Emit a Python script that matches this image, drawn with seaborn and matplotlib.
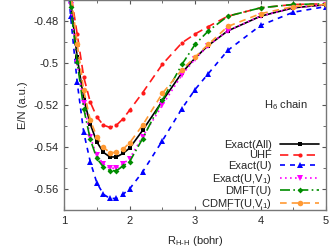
import numpy as np
import pandas as pd
import matplotlib
matplotlib.use("Agg")
import matplotlib.pyplot as plt
import seaborn as sns
from matplotlib.ticker import MultipleLocator

# Bond length grid (bohr)
R = [1.0, 1.1, 1.2, 1.3, 1.4, 1.5, 1.6, 1.7, 1.8, 1.9, 2.0,
     2.2, 2.5, 2.8, 3.0, 3.2, 3.5, 4.0, 4.5, 5.0]

# Energy per atom (a.u.)
exact_all = [-0.432, -0.470, -0.497, -0.517, -0.529, -0.5375, -0.5425, -0.5447, -0.5447, -0.5430, -0.5405,
             -0.5320, -0.5180, -0.5045, -0.4975, -0.4915, -0.4845, -0.4775, -0.4735, -0.4720]
uhf = [-0.440, -0.466, -0.486, -0.5065, -0.5185, -0.5256, -0.5295, -0.5306, -0.5295, -0.5265, -0.5224,
       -0.5140, -0.5005, -0.4902, -0.4860, -0.4825, -0.4775, -0.4735, -0.4719, -0.4716]
exact_u = [-0.440, -0.4775, -0.509, -0.533, -0.547, -0.557, -0.5625, -0.5645, -0.5645, -0.5625, -0.5600,
           -0.5518, -0.5370, -0.5216, -0.5125, -0.5050, -0.4938, -0.4819, -0.4756, -0.4729]
exact_uv1 = [-0.432, -0.472, -0.500, -0.519, -0.5351, -0.5440, -0.5480, -0.5501, -0.5500, -0.5480, -0.5455,
             -0.5350, -0.5200, -0.5055, -0.4980, -0.4915, -0.4845, -0.4775, -0.4735, -0.4720]
dmft_u = [-0.433, -0.473, -0.4994, -0.5216, -0.5363, -0.5454, -0.5495, -0.5512, -0.5513, -0.5490, -0.5470,
          -0.5359, -0.5176, -0.5005, -0.4910, -0.4846, -0.4775, -0.4735, -0.4719, -0.4716]
cdmft_uv1 = [-0.428, -0.466, -0.4906, -0.5129, -0.5271, -0.5350, -0.5400, -0.5427, -0.5425, -0.5410, -0.5380,
             -0.5295, -0.5144, -0.5030, -0.4970, -0.4910, -0.4824, -0.4763, -0.4729, -0.4719]

labels = ["Exact(All)", "UHF", "Exact(U)", r"Exact(U,V$_1$)", "DMFT(U)", r"CDMFT(U,V$_1$)"]
series = [exact_all, uhf, exact_u, exact_uv1, dmft_u, cdmft_uv1]

# gnuplot-like styles
styles = [
    dict(color="black", marker="s", ms=3, linestyle="-", lw=1.2),
    dict(color="#ff1a1a", marker="o", ms=3, linestyle=(0, (5, 3)), lw=1.2),
    dict(color="#0000ff", marker="^", ms=4, linestyle=(0, (3, 3)), lw=1.2),
    dict(color="#ff00ff", marker="v", ms=4, linestyle=(0, (1, 2)), lw=1.2),
    dict(color="#008c00", marker="D", ms=3, linestyle=(0, (6, 2, 1, 2)), lw=1.2),
    dict(color="#ff9933", marker="o", ms=4, linestyle=(0, (4, 3)), lw=1.2),
]

sns.set_style("ticks")
plt.rcParams["font.family"] = ["Liberation Sans", "DejaVu Sans"]
plt.rcParams["font.size"] = 8
plt.rcParams["mathtext.fontset"] = "custom"
plt.rcParams["mathtext.rm"] = "Liberation Sans"
plt.rcParams["mathtext.default"] = "regular"

fig = plt.figure(figsize=(3.32, 2.47), dpi=100)
ax = fig.add_axes([0.193, 0.15, 0.789, 0.848])

for lab, vals, st in zip(labels, series, styles):
    df = pd.DataFrame({"R": R, "E": vals})
    sns.lineplot(data=df, x="R", y="E", ax=ax, label=lab, markeredgewidth=0, **st)

ax.set_xlim(1, 5)
ax.set_ylim(-0.57, -0.47)
ax.set_xticks([1, 2, 3, 4, 5])
ax.set_yticks([-0.56, -0.54, -0.52, -0.5, -0.48])
ax.set_yticklabels(["-0.56", "-0.54", "-0.52", "-0.5", "-0.48"])
ax.xaxis.set_minor_locator(MultipleLocator(0.5))
ax.yaxis.set_minor_locator(MultipleLocator(0.01))
ax.tick_params(which="both", direction="in", top=True, right=True, color="#555555", labelsize=8)
ax.tick_params(which="major", length=3, pad=4)
ax.tick_params(which="minor", length=2)
for sp in ax.spines.values():
    sp.set_color("#777777")
    sp.set_linewidth(1.0)

ax.set_xlabel(r"R$_{H\text{-}H}$ (bohr)", fontsize=8, labelpad=6)
ax.set_ylabel("E/N (a.u.)", fontsize=8, labelpad=4)

ax.text(0.93, 0.5, r"H$_6$ chain", transform=ax.transAxes, ha="right", va="center", fontsize=8)

ax.legend(loc="lower right", bbox_to_anchor=(1.0, -0.035), frameon=False, markerfirst=False,
          fontsize=8, handlelength=3.5, labelspacing=0.05, borderaxespad=0.2, handletextpad=0.8)

fig.savefig("out.png", dpi=100)
